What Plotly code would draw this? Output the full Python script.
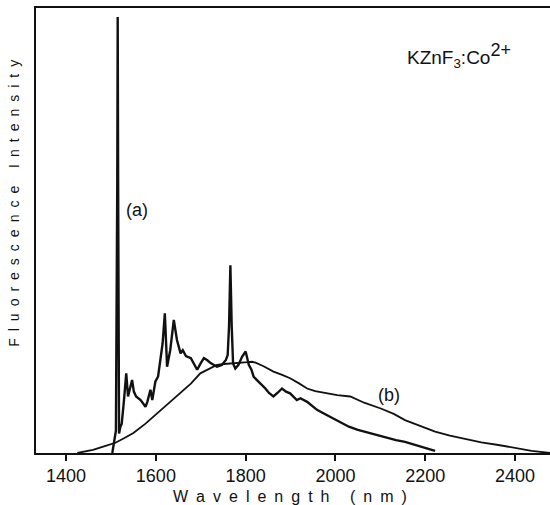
import plotly.graph_objects as go

# Curve (a): fluorescence spectrum with the sharp line near 1515 nm
a_wavelength = [1503, 1508, 1511, 1514, 1515, 1516, 1518, 1521, 1524, 1529, 1534,
                1538, 1543, 1547, 1551, 1556, 1566, 1572, 1577, 1581, 1588, 1592,
                1599, 1605, 1610, 1615, 1620, 1625, 1632, 1640, 1647, 1655, 1660,
                1667, 1678, 1692, 1700, 1707, 1714, 1722, 1736, 1747, 1756, 1760,
                1763, 1766, 1769, 1772, 1777, 1784, 1792, 1800, 1807, 1813, 1818,
                1825, 1834, 1844, 1852, 1862, 1872, 1881, 1890, 1899, 1914, 1922,
                1937, 1948, 1959, 1970, 1981, 2000, 2013, 2030, 2050, 2065, 2080,
                2100, 2117, 2135, 2155, 2190, 2222]
a_intensity = [0.0, 2.9, 5.0, 60.0, 98.0, 60.0, 4.4, 5.9, 6.6, 11.9, 17.9,
               12.7, 14.9, 16.4, 13.8, 12.7, 11.9, 11.2, 10.4, 11.5, 14.2, 11.9,
               16.1, 17.2, 20.9, 24.6, 31.4, 19.4, 23.1, 29.9, 25.4, 22.4, 23.1,
               21.8, 21.3, 18.7, 20.2, 21.3, 20.9, 20.2, 19.4, 19.8, 20.9, 22.0,
               28.4, 42.2, 28.4, 20.1, 19.0, 19.8, 21.6, 22.8, 19.8, 18.7, 17.1,
               16.4, 15.6, 14.5, 13.5, 12.7, 13.6, 14.5, 13.8, 13.4, 11.9, 12.3,
               11.5, 10.6, 9.7, 9.1, 8.5, 7.4, 6.7, 5.9, 5.2, 4.8, 4.4,
               3.8, 3.3, 2.9, 2.5, 1.5, 0.5]

# Curve (b): broad emission band
b_wavelength = [1425, 1460, 1488, 1503, 1510, 1529, 1550, 1577, 1603, 1621, 1641,
                1666, 1678, 1699, 1715, 1736, 1752, 1773, 1789, 1805, 1814, 1822,
                1840, 1862, 1880, 1899, 1918, 1937, 1955, 1974, 2004, 2033, 2064,
                2101, 2130, 2155, 2190, 2222, 2255, 2289, 2325, 2363, 2400, 2437,
                2478]
b_intensity = [0.0, 0.7, 1.6, 2.0, 2.3, 3.3, 4.5, 6.6, 8.9, 10.4, 12.3,
               14.5, 15.6, 17.9, 18.7, 19.8, 20.0, 20.1, 20.3, 20.4, 20.5, 20.3,
               19.5, 18.3, 17.6, 16.8, 15.7, 14.5, 13.9, 13.5, 13.0, 12.7, 11.3,
               10.0, 8.8, 7.4, 6.0, 4.8, 3.9, 3.1, 2.4, 1.8, 1.1, 0.5,
               0.0]

x_ticks = [1400, 1600, 1800, 2000, 2200, 2400]

FONT = "Liberation Sans"
INK = "#111111"


def spaced(text):
    # widen letter spacing with en spaces between characters
    return "\u2002".join(text)


fig = go.Figure()
fig.add_trace(go.Scatter(x=b_wavelength, y=b_intensity, mode="lines",
                         line=dict(color=INK, width=1.8), hoverinfo="skip"))
fig.add_trace(go.Scatter(x=a_wavelength, y=a_intensity, mode="lines",
                         line=dict(color=INK, width=2.4), hoverinfo="skip"))

fig.update_layout(
    width=550, height=505,
    margin=dict(l=36, r=0, t=8, b=52),
    paper_bgcolor="white", plot_bgcolor="white",
    showlegend=False,
    font=dict(family=FONT, color=INK),
    xaxis=dict(range=[1333, 2478], tickvals=x_ticks,
               ticktext=[str(v) for v in x_ticks],
               showline=True, linecolor=INK, linewidth=1.5, mirror=True,
               ticks="outside", ticklen=6, tickwidth=1.5, tickcolor=INK,
               tickfont=dict(size=18), showgrid=False, zeroline=False),
    yaxis=dict(range=[0, 100], showline=True, linecolor=INK, linewidth=1.5,
               showticklabels=False, ticks="", showgrid=False, zeroline=False),
)

fig.add_annotation(text=spaced("Wavelength (nm)"), xref="paper", yref="paper",
                   x=0.494, y=-0.097, showarrow=False, font=dict(size=16),
                   xanchor="center", yanchor="middle")
fig.add_annotation(text=spaced("Fluorescence Intensity"), xref="paper",
                   yref="paper", x=-0.043, y=0.562, textangle=-90, showarrow=False,
                   font=dict(size=14), xanchor="center", yanchor="middle")
fig.add_annotation(
    text="KZnF<sub>3</sub>:Co<sup><span style='font-size:18px'>2+</span></sup>",
    xref="paper", yref="paper", x=0.718, y=0.894, showarrow=False,
    font=dict(size=19), xanchor="left", yanchor="middle")
fig.add_annotation(text="(a)", x=1559, y=54.5, showarrow=False, font=dict(size=18))
fig.add_annotation(text="(b)", x=2120, y=13.0, showarrow=False, font=dict(size=18))

fig.write_html("out.html")
